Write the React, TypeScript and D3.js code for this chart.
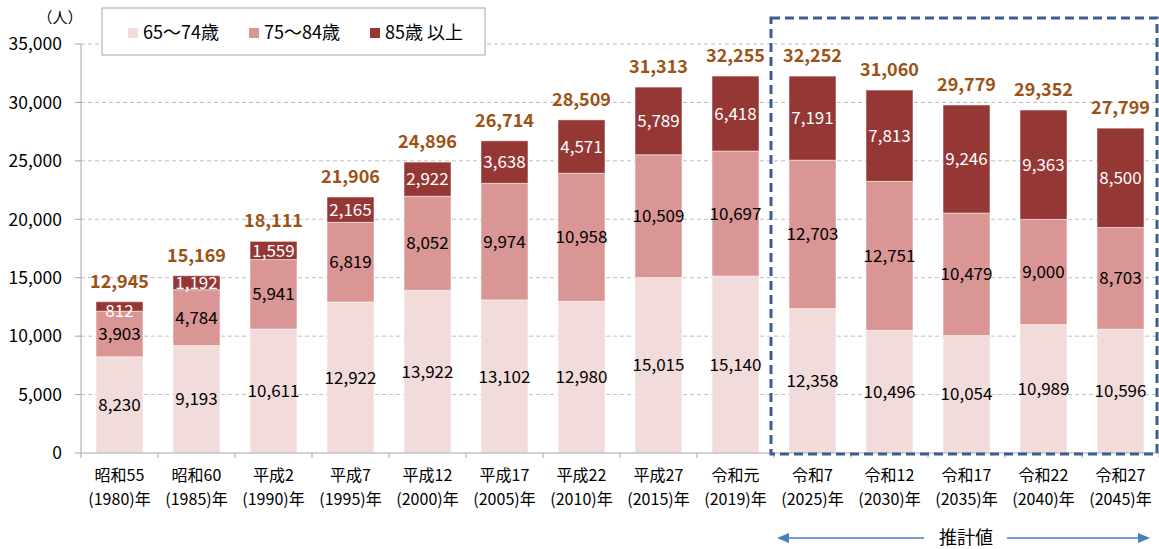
import React, { useEffect, useRef } from 'react';
import * as d3 from 'd3';

const eraLabels = ['昭和55', '昭和60', '平成2', '平成7', '平成12', '平成17', '平成22', '平成27', '令和元', '令和7', '令和12', '令和17', '令和22', '令和27'];
const yearLabels = ['(1980)年', '(1985)年', '(1990)年', '(1995)年', '(2000)年', '(2005)年', '(2010)年', '(2015)年', '(2019)年', '(2025)年', '(2030)年', '(2035)年', '(2040)年', '(2045)年'];

const age65to74 = [8230, 9193, 10611, 12922, 13922, 13102, 12980, 15015, 15140, 12358, 10496, 10054, 10989, 10596];
const age75to84 = [3903, 4784, 5941, 6819, 8052, 9974, 10958, 10509, 10697, 12703, 12751, 10479, 9000, 8703];
const age85plus = [812, 1192, 1559, 2165, 2922, 3638, 4571, 5789, 6418, 7191, 7813, 9246, 9363, 8500];
const totals = [12945, 15169, 18111, 21906, 24896, 26714, 28509, 31313, 32255, 32252, 31060, 29779, 29352, 27799];

const seriesNames = ['65～74歳', '75～84歳', '85歳 以上'];
const yTicks = [0, 5000, 10000, 15000, 20000, 25000, 30000, 35000];

const FONT = '"Noto Sans CJK JP", "Noto Sans", sans-serif';

const App = () => {
  const svgRef = useRef(null);

  useEffect(() => {
    const width = 1159;
    const height = 549;
    const colors = ['#F2DCDB', '#D99694', '#953735'];
    const labelColors = ['#000', '#000', '#fff'];
    const series = [age65to74, age75to84, age85plus];

    const svg = d3.select(svgRef.current);
    svg.selectAll('*').remove();
    svg.attr('width', width).attr('height', height)
      .style('font-family', FONT);

    const x = d3.scaleBand()
      .domain(eraLabels)
      .range([81, 1159])
      .paddingInner(0.39)
      .paddingOuter(0.195);

    const y = d3.scaleLinear()
      .domain([0, 35000])
      .range([453, 44]);

    // gridlines
    svg.append('g')
      .selectAll('line')
      .data(yTicks.filter(d => d > 0))
      .enter().append('line')
      .attr('x1', 81).attr('x2', width)
      .attr('y1', d => y(d)).attr('y2', d => y(d))
      .attr('stroke', '#BFBFBF')
      .attr('stroke-dasharray', '4,3');

    // stacked bars
    const stackData = eraLabels.map((c, i) => ({
      cat: c, a: age65to74[i], b: age75to84[i], c: age85plus[i],
    }));
    const stack = d3.stack().keys(['a', 'b', 'c'])(stackData as any);

    stack.forEach((layer, li) => {
      const g = svg.append('g');
      g.selectAll('rect')
        .data(layer)
        .enter().append('rect')
        .attr('x', (d: any) => x(d.data.cat))
        .attr('width', x.bandwidth())
        .attr('y', d => y(d[1]))
        .attr('height', d => y(d[0]) - y(d[1]))
        .attr('fill', colors[li])
        .attr('stroke', '#fff')
        .attr('stroke-opacity', 0.5)
        .attr('stroke-width', 1);

      g.selectAll('text')
        .data(layer)
        .enter().append('text')
        .attr('x', (d: any) => x(d.data.cat) + x.bandwidth() / 2)
        .attr('y', d => {
          const h = y(d[0]) - y(d[1]);
          // thin segment: label sits low so it clears the total above
          return h < 12 ? y(d[0]) : (y(d[0]) + y(d[1])) / 2;
        })
        .attr('dy', '0.36em')
        .attr('text-anchor', 'middle')
        .attr('font-size', 17)
        .attr('fill', labelColors[li])
        .text((d, i) => d3.format(',')(series[li][i]));
    });

    // totals
    svg.append('g')
      .selectAll('text')
      .data(totals)
      .enter().append('text')
      .attr('x', (d, i) => x(eraLabels[i]) + x.bandwidth() / 2)
      .attr('y', d => y(d) - 14)
      .attr('text-anchor', 'middle')
      .attr('font-size', 18)
      .attr('font-weight', 'bold')
      .attr('fill', '#9C5214')
      .text(d => d3.format(',')(d));

    // y axis
    const yAxis = svg.append('g');
    yAxis.append('line')
      .attr('x1', 81).attr('x2', 81)
      .attr('y1', y(35000)).attr('y2', y(0))
      .attr('stroke', '#A6A6A6');
    yAxis.selectAll('.tick')
      .data(yTicks)
      .enter().append('line')
      .attr('x1', 75).attr('x2', 81)
      .attr('y1', d => y(d)).attr('y2', d => y(d))
      .attr('stroke', '#A6A6A6');
    yAxis.selectAll('text')
      .data(yTicks)
      .enter().append('text')
      .attr('x', 62)
      .attr('y', d => y(d))
      .attr('dy', '0.36em')
      .attr('text-anchor', 'end')
      .attr('font-size', 17.5)
      .attr('fill', '#000')
      .text(d => d3.format(',')(d));
    svg.append('text')
      .attr('x', 60).attr('y', 18)
      .attr('dy', '0.36em')
      .attr('text-anchor', 'middle')
      .attr('font-size', 15)
      .text('（人）');

    // x axis
    const xAxis = svg.append('g');
    xAxis.append('line')
      .attr('x1', 81).attr('x2', width)
      .attr('y1', y(0)).attr('y2', y(0))
      .attr('stroke', '#A6A6A6');
    const step = x.step();
    xAxis.selectAll('.tick')
      .data(d3.range(eraLabels.length + 1))
      .enter().append('line')
      .attr('x1', d => 81 + d * step).attr('x2', d => 81 + d * step)
      .attr('y1', y(0)).attr('y2', y(0) + 5)
      .attr('stroke', '#A6A6A6');
    xAxis.selectAll('.l1')
      .data(eraLabels)
      .enter().append('text')
      .attr('x', d => x(d) + x.bandwidth() / 2)
      .attr('y', 475)
      .attr('dy', '0.36em')
      .attr('text-anchor', 'middle')
      .attr('font-size', 16)
      .text(d => d);
    xAxis.selectAll('.l2')
      .data(yearLabels)
      .enter().append('text')
      .attr('x', (d, i) => x(eraLabels[i]) + x.bandwidth() / 2)
      .attr('y', 499)
      .attr('dy', '0.36em')
      .attr('text-anchor', 'middle')
      .attr('font-size', 16)
      .text(d => d);

    // legend
    const legend = svg.append('g');
    legend.append('rect')
      .attr('x', 102).attr('y', 8)
      .attr('width', 383).attr('height', 47)
      .attr('fill', '#fff')
      .attr('stroke', '#A6A6A6');
    const legendX = [128, 249, 370];
    seriesNames.forEach((name, i) => {
      legend.append('rect')
        .attr('x', legendX[i]).attr('y', 28)
        .attr('width', 10).attr('height', 10)
        .attr('fill', colors[i]);
      legend.append('text')
        .attr('x', legendX[i] + 15).attr('y', 33)
        .attr('dy', '0.36em')
        .attr('font-size', 18)
        .text(name);
    });

    // projection box
    svg.append('rect')
      .attr('x', 771).attr('y', 18)
      .attr('width', 386).attr('height', 436)
      .attr('fill', 'none')
      .attr('stroke', '#3B5E91')
      .attr('stroke-width', 3)
      .attr('stroke-dasharray', '9,5');

    // arrow
    const ay = 538;
    const arrowColor = '#4A7EBB';
    svg.append('line')
      .attr('x1', 786).attr('x2', 924).attr('y1', ay).attr('y2', ay)
      .attr('stroke', arrowColor).attr('stroke-width', 1.5);
    svg.append('line')
      .attr('x1', 1007).attr('x2', 1141).attr('y1', ay).attr('y2', ay)
      .attr('stroke', arrowColor).attr('stroke-width', 1.5);
    svg.append('path')
      .attr('d', `M777,${ay} L789,${ay - 5} L789,${ay + 5} Z`)
      .attr('fill', arrowColor);
    svg.append('path')
      .attr('d', `M1150,${ay} L1138,${ay - 5} L1138,${ay + 5} Z`)
      .attr('fill', arrowColor);
    svg.append('text')
      .attr('x', 966).attr('y', ay)
      .attr('dy', '0.36em')
      .attr('text-anchor', 'middle')
      .attr('font-size', 18)
      .text('推計値');
  }, []);

  return (
    <svg ref={svgRef} style={{ display: 'block', position: 'absolute', left: 0, top: 0 }}></svg>
  );
};

export default App;
